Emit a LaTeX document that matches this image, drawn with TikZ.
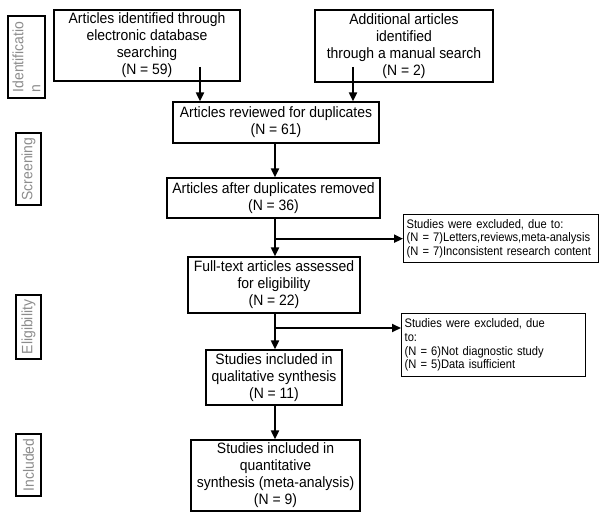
\documentclass[tikz,border=0pt]{standalone}
\usepackage{fontspec}
\setmainfont{Liberation Sans}
\newfontfamily\tallfamily[FakeStretch=0.93]{Liberation Sans}
\newfontfamily\exclfamily[FakeStretch=0.9]{Liberation Sans}
\usetikzlibrary{arrows.meta}

\definecolor{stagegray}{RGB}{140,140,140}
\newcommand\boxfont{\tallfamily\fontsize{15}{17}\selectfont}
\newcommand\exclfont{\exclfamily\fontsize{12.4}{13.7}\selectfont}

\begin{document}
\begin{tikzpicture}[x=1pt,y=-1pt]

\tikzset{
  flowbox/.style={draw, line width=1.3pt, align=center, inner sep=2pt, font=\boxfont},
  exclbox/.style={draw, line width=1.3pt, align=left, inner xsep=3pt, inner ysep=2pt, font=\exclfont, anchor=north west},
  stagebox/.style={draw, line width=1.3pt, rotate=90, text=stagegray, font=\boxfont, inner sep=2pt},
  arr/.style={line width=2pt, -{Triangle[length=9pt,width=8pt]}}
}

\useasboundingbox (0,0) rectangle (600,513);

%% Stages
\node[stagebox, align=left, minimum width=82, minimum height=37] (ident) at (26.5,57) {Identificatio\\n};
\node[stagebox, minimum width=72, minimum height=25] (screen) at (28.5,169) {Screening};
\node[stagebox, minimum width=64, minimum height=25] (elig) at (28.5,327) {Eligibility};
\node[stagebox, minimum width=62, minimum height=25] (incl) at (28.5,465) {Included};

%% Identification
\node[flowbox, minimum width=186, minimum height=71] (dbsearch) at (147,45.5)
  {Articles identified through\\electronic database\\searching\\(N = 59)};
\node[flowbox, minimum width=178, minimum height=72] (manual) at (404,46)
  {Additional articles\\identified\\through a manual search\\(N = 2)};

%% Screening
\node[flowbox, minimum width=206, minimum height=41] (dup) at (276,122.5)
  {Articles reviewed for duplicates\\(N = 61)};
\node[flowbox, minimum width=213, minimum height=40] (removed) at (273.5,198)
  {Articles after duplicates removed\\(N = 36)};
\node[exclbox, text width=189, minimum height=48] (excl1) at (403,214)
  {Studies were excluded, due to:\\\mbox{(N = 7)Letters,reviews,meta-analysis}\\\mbox{(N = 7)Inconsistent research content}};

%% Eligibility
\node[flowbox, minimum width=172, minimum height=56] (fulltext) at (274,285)
  {Full-text articles assessed\\for eligibility\\(N = 22)};
\node[exclbox, text width=178, minimum height=63] (excl2) at (401,313)
  {Studies were excluded, due\\to:\\(N = 6)Not diagnostic study\\(N = 5)Data isufficient};
\node[flowbox, minimum width=136, minimum height=55] (qual) at (274,377.5)
  {Studies included in\\qualitative synthesis\\(N = 11)};

%% Included
\node[flowbox, minimum width=169, minimum height=71] (quant) at (275.5,475.5)
  {Studies included in\\quantitative\\synthesis (meta-analysis)\\(N = 9)};

%% Arrows
\coordinate (s1) at (200,67);
\coordinate (s2) at (353,67);
\coordinate (trunk) at (275,0);
\coordinate (b2) at (275,328);

\draw[arr] (s1) -- (s1 |- dup.north);
\draw[arr] (s2) -- (s2 |- dup.north);
\draw[arr] (trunk |- dup.south) -- (trunk |- removed.north);
\draw[arr] (trunk |- removed.south) -- (trunk |- fulltext.north);
\draw[arr] (trunk |- excl1.west) -- (excl1.west);
\draw[arr] (trunk |- fulltext.south) -- (trunk |- qual.north);
\draw[arr] (b2) -- (b2 -| excl2.west);
\draw[arr] (trunk |- qual.south) -- (trunk |- quant.north);

\end{tikzpicture}
\end{document}
